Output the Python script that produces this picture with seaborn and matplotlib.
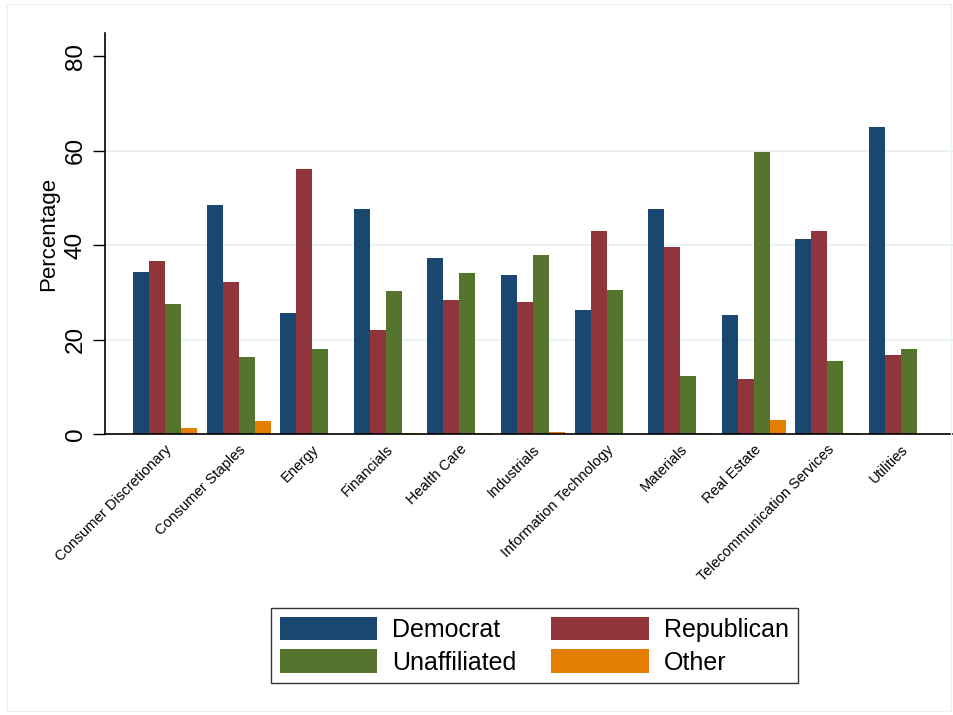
import numpy as np
import pandas as pd
import matplotlib
matplotlib.use("Agg")
import matplotlib.pyplot as plt
import seaborn as sns
from matplotlib.patches import Rectangle

sectors = ['Consumer Discretionary', 'Consumer Staples', 'Energy', 'Financials',
           'Health Care', 'Industrials', 'Information Technology', 'Materials',
           'Real Estate', 'Telecommunication Services', 'Utilities']
democrat = [34.4, 48.6, 25.7, 47.7, 37.3, 33.6, 26.3, 47.7, 25.3, 41.4, 65.1]
republican = [36.7, 32.3, 56.2, 22.1, 28.4, 28.0, 43.1, 39.7, 11.7, 43.1, 16.8]
unaffiliated = [27.6, 16.3, 18.0, 30.3, 34.2, 38.0, 30.6, 12.3, 59.8, 15.5, 18.0]
other = [1.3, 2.8, 0.0, 0.2, 0.2, 0.5, 0.0, 0.2, 3.0, 0.2, 0.0]
parties = ['Democrat', 'Republican', 'Unaffiliated', 'Other']
colors = ['#1a476f', '#90353b', '#55752f', '#e37e00']

df = pd.DataFrame({'Sector': sectors, 'Democrat': democrat, 'Republican': republican,
                   'Unaffiliated': unaffiliated, 'Other': other})
long_df = df.melt(id_vars='Sector', var_name='Party', value_name='Percentage')

sns.set_style('white')
plt.rcParams['font.family'] = ['Liberation Sans', 'DejaVu Sans']
plt.rcParams['text.color'] = 'black'
plt.rcParams['axes.labelcolor'] = 'black'
plt.rcParams['xtick.color'] = 'black'
plt.rcParams['ytick.color'] = 'black'

fig = plt.figure(figsize=(9.54, 7.15), dpi=100)
ax = fig.add_axes([0.110, 0.393, 0.890, 0.561])

sns.barplot(data=long_df, x='Sector', y='Percentage', hue='Party', hue_order=parties,
            order=sectors, palette=colors, width=0.87, saturation=1, ax=ax,
            edgecolor='none', linewidth=0, legend=True)

ax.set_ylim(0, 85)
ax.set_xlim(-0.815, 10.72)
ax.set_yticks([0, 20, 40, 60, 80])
for g in [20, 40, 60]:
    ax.axhline(g, color='#eaf2f3', lw=1.5, zorder=0)
ax.tick_params(axis='y', labelsize=17.5, length=9, width=1, direction='out', left=True, pad=4)
for lab in ax.get_yticklabels():
    lab.set_rotation(90)
    lab.set_va('center')
ax.tick_params(axis='x', labelsize=10.5, length=0, pad=6)
ax.set_xticks(range(len(sectors)))
ax.set_xticklabels(sectors, rotation=45, ha='right', rotation_mode='anchor')
ax.set_xlabel('')
ax.set_ylabel('Percentage', fontsize=16, labelpad=4)

for side in ['top', 'right']:
    ax.spines[side].set_visible(False)
for side in ['left', 'bottom']:
    ax.spines[side].set_color('black')
    ax.spines[side].set_linewidth(1.2)

# legend filled row by row: Democrat, Republican / Unaffiliated, Other
ax.legend_.remove()
handles, labels = ax.get_legend_handles_labels()
idx = [0, 2, 1, 3]
leg = fig.legend([handles[i] for i in idx], [labels[i] for i in idx],
                 loc='center', bbox_to_anchor=(0.56, 0.097), ncol=2,
                 fontsize=18, frameon=True, fancybox=False, edgecolor='black',
                 handlelength=3.9, handleheight=1.05, labelspacing=0.3,
                 columnspacing=1.4, handletextpad=0.6, borderpad=0.35)
leg.get_frame().set_linewidth(1.0)

fig.patches.append(Rectangle((0.007, 0.005), 0.99, 0.99, transform=fig.transFigure,
                             fill=False, edgecolor='#eef0f0', lw=1))

fig.savefig('out.png', dpi=100)
